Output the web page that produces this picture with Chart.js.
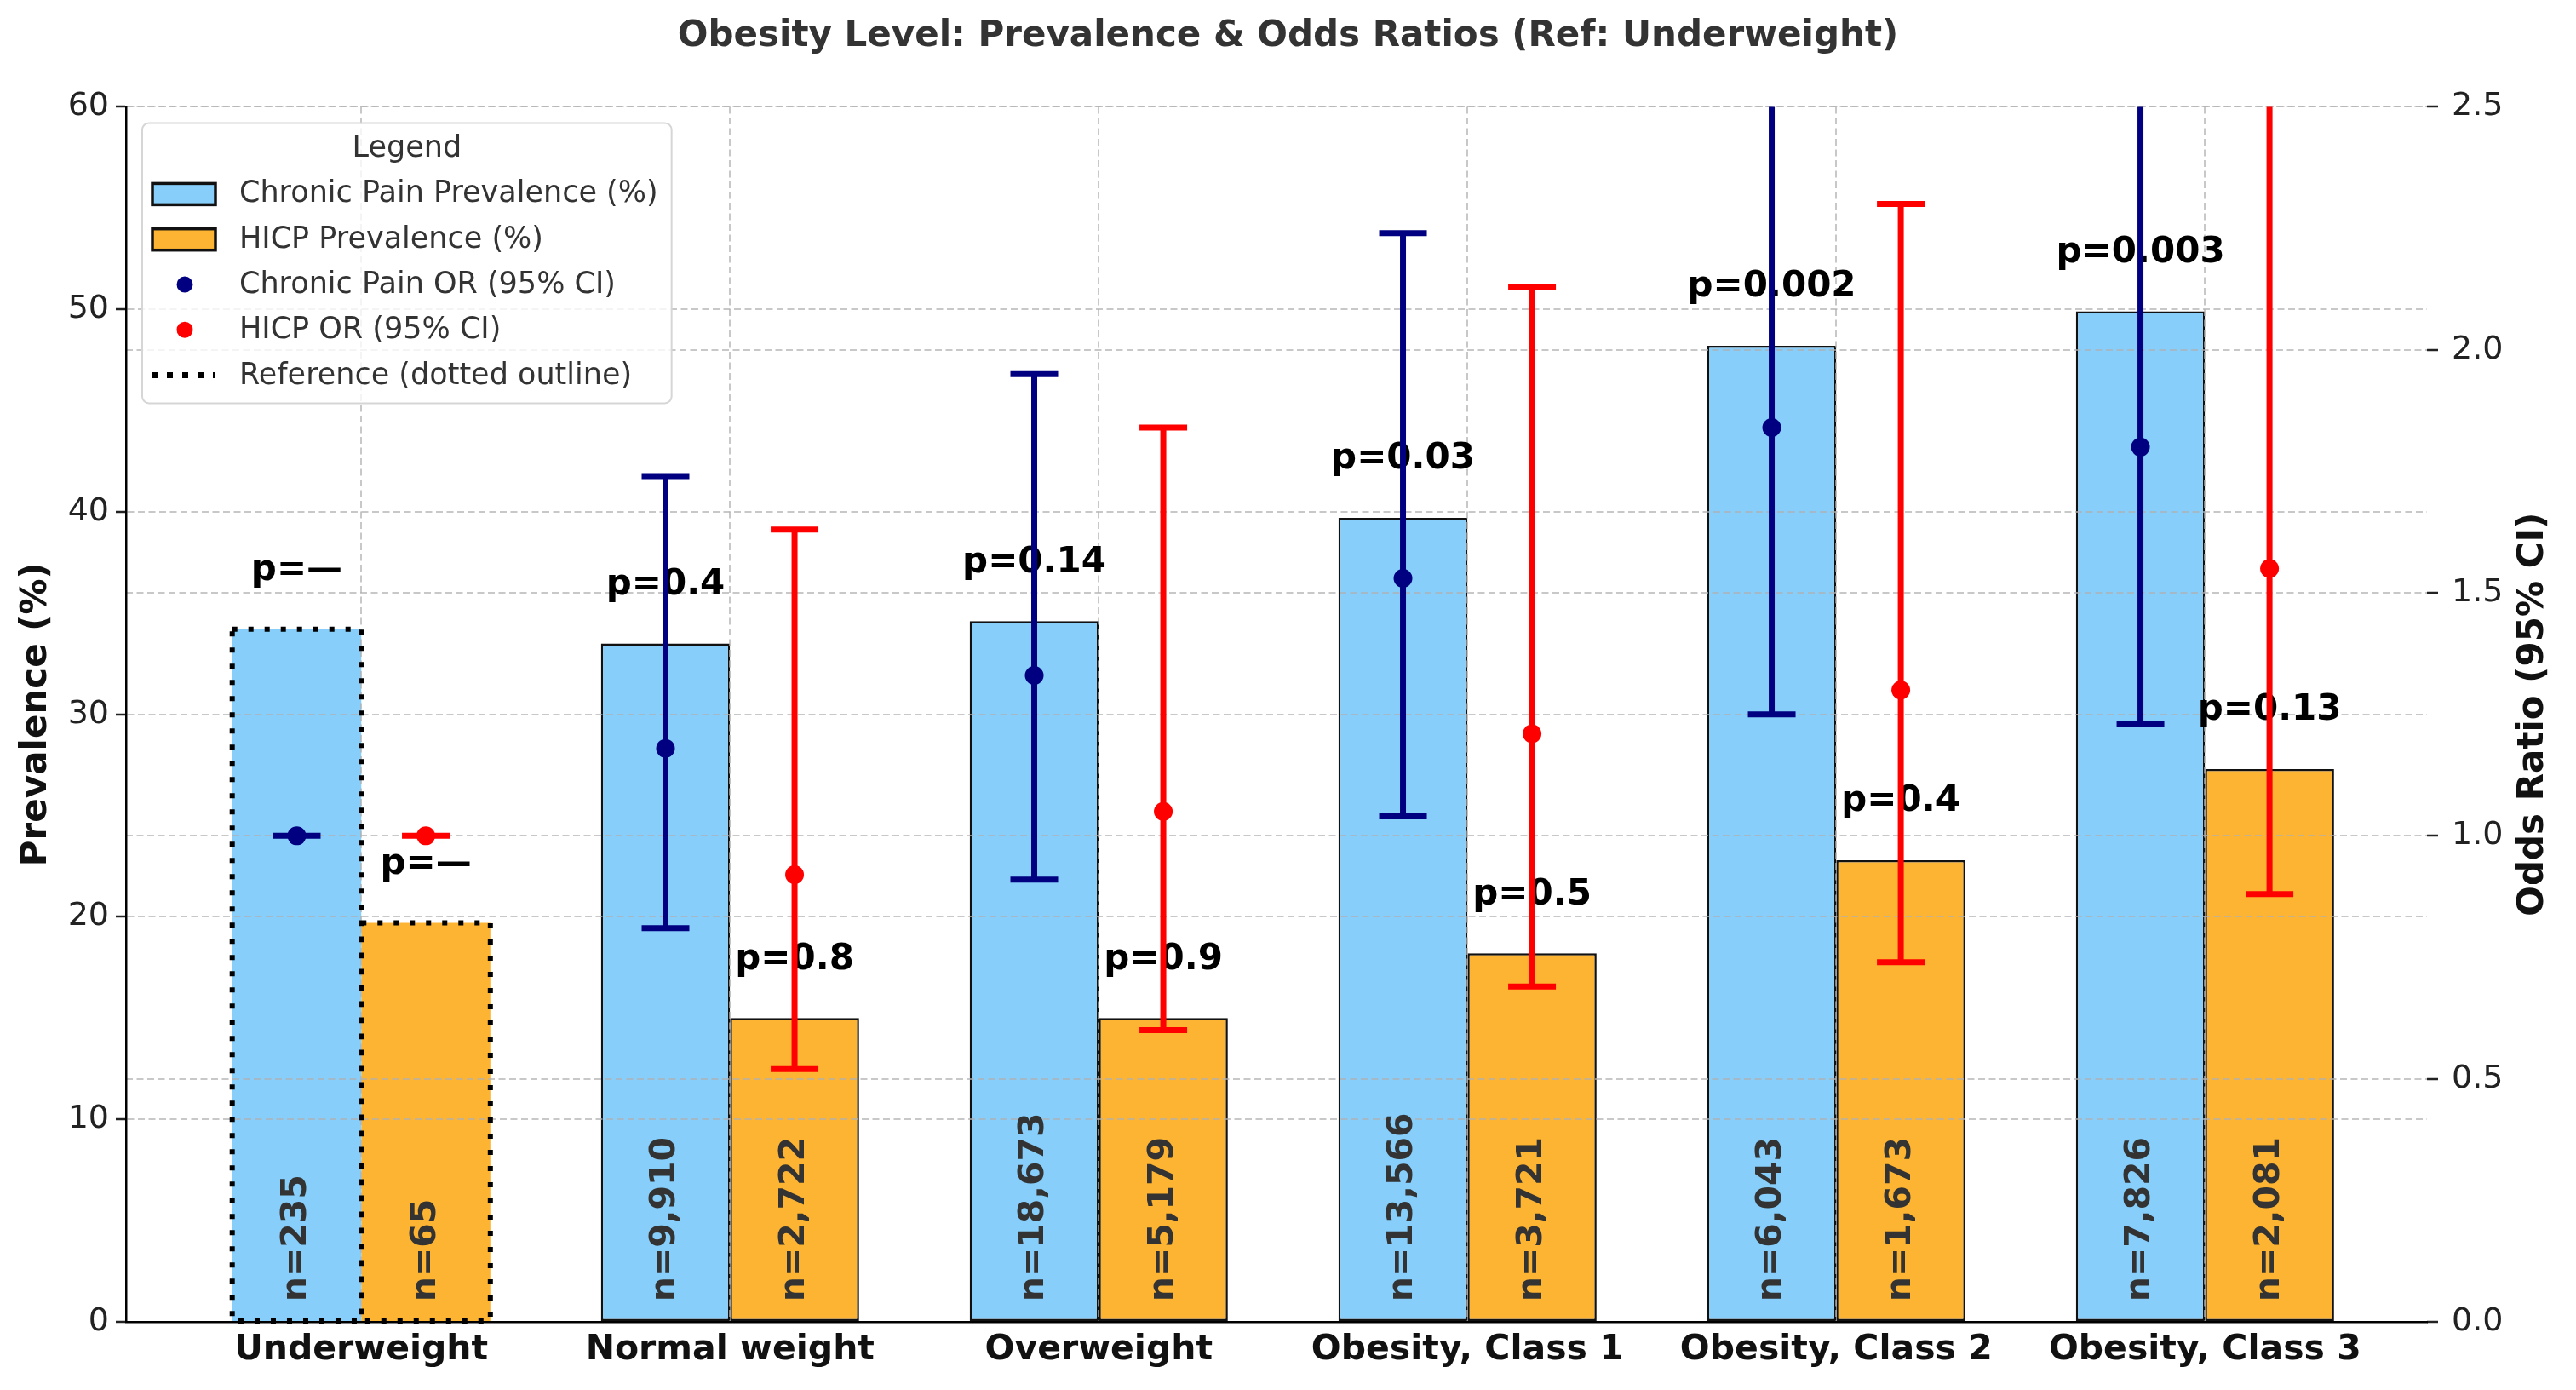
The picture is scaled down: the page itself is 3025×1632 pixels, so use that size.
<!DOCTYPE html>
<html>
<head>
<meta charset="utf-8">
<title>Obesity Level: Prevalence & Odds Ratios</title>
<script src="https://cdn.jsdelivr.net/npm/chart.js@4.4.1/dist/chart.umd.min.js"></script>
<style>
  html, body { margin: 0; padding: 0; background: #ffffff; }
  canvas { display: block; }
</style>
</head>
<body>
<canvas id="obesityChart" width="3025" height="1632"></canvas>
<script>
// categories and values
const categories = ['Underweight', 'Normal weight', 'Overweight', 'Obesity, Class 1', 'Obesity, Class 2', 'Obesity, Class 3'];
const cpPrevalence = [34.2, 33.5, 34.6, 39.7, 48.2, 49.9];
const hicpPrevalence = [19.7, 15.0, 15.0, 18.2, 22.8, 27.3];

// odds ratios with 95% CI (right axis)
const cpOR = [1.00, 1.18, 1.33, 1.53, 1.84, 1.80];
const cpLow = [1.00, 0.81, 0.91, 1.04, 1.25, 1.23];
const cpHigh = [1.00, 1.74, 1.95, 2.24, 2.75, 2.68];
const hicpOR = [1.00, 0.92, 1.05, 1.21, 1.30, 1.55];
const hicpLow = [1.00, 0.52, 0.60, 0.69, 0.74, 0.88];
const hicpHigh = [1.00, 1.63, 1.84, 2.13, 2.30, 2.72];

// annotations
const cpP = ['p=—', 'p=0.4', 'p=0.14', 'p=0.03', 'p=0.002', 'p=0.003'];
const hicpP = ['p=—', 'p=0.8', 'p=0.9', 'p=0.5', 'p=0.4', 'p=0.13'];
const cpN = ['n=235', 'n=9,910', 'n=18,673', 'n=13,566', 'n=6,043', 'n=7,826'];
const hicpN = ['n=65', 'n=2,722', 'n=5,179', 'n=3,721', 'n=1,673', 'n=2,081'];

// axis ticks
const prevTicks = [0, 10, 20, 30, 40, 50, 60];
const orTicks = [0, 0.5, 1.0, 1.5, 2.0, 2.5];

const CP_COLOR = '#87CEFA';
const HICP_COLOR = '#FDB432';
const FONT = '"DejaVu Sans", "Liberation Sans", sans-serif';
const GRID = 'rgba(176,176,176,0.7)';

Chart.defaults.font.family = FONT;

function drawErrorBar(ctx, x, yc, yl, yh, color) {
    ctx.strokeStyle = color;
    ctx.fillStyle = color;
    ctx.lineWidth = 7;
    ctx.lineCap = 'butt';
    ctx.beginPath();
    ctx.moveTo(x, yl);
    ctx.lineTo(x, yh);
    ctx.stroke();
    ctx.beginPath();
    ctx.moveTo(x - 28, yl); ctx.lineTo(x + 28, yl);
    ctx.moveTo(x - 28, yh); ctx.lineTo(x + 28, yh);
    ctx.stroke();
    ctx.beginPath();
    ctx.arc(x, yc, 11, 0, Math.PI * 2);
    ctx.fill();
}

function drawLegend(ctx, area) {
    const items = [
        { text: 'Chronic Pain Prevalence (%)', kind: 'box', color: CP_COLOR },
        { text: 'HICP Prevalence (%)', kind: 'box', color: HICP_COLOR },
        { text: 'Chronic Pain OR (95% CI)', kind: 'dot', color: '#000080' },
        { text: 'HICP OR (95% CI)', kind: 'dot', color: '#FF0000' },
        { text: 'Reference (dotted outline)', kind: 'dots', color: '#000' }
    ];
    ctx.save();
    ctx.font = '35px ' + FONT;
    let maxW = 0;
    items.forEach(it => { maxW = Math.max(maxW, ctx.measureText(it.text).width); });
    const x0 = area.left + 19;
    const y0 = area.top + 19;
    const w = 114 + maxW + 16;
    const h = 329;

    ctx.beginPath();
    ctx.roundRect(x0, y0, w, h, 8);
    ctx.fillStyle = 'rgba(255,255,255,0.8)';
    ctx.fill();
    ctx.lineWidth = 2;
    ctx.strokeStyle = '#d6d6d6';
    ctx.stroke();

    ctx.fillStyle = '#333';
    ctx.textBaseline = 'middle';
    ctx.textAlign = 'center';
    ctx.fillText('Legend', x0 + w / 2, y0 + 31);

    ctx.textAlign = 'left';
    items.forEach((it, k) => {
        const cy = y0 + 83 + k * 53.3;
        if (it.kind === 'box') {
            ctx.fillStyle = it.color;
            ctx.fillRect(x0 + 12, cy - 12, 74, 25);
            ctx.lineWidth = 3.5;
            ctx.strokeStyle = '#111';
            ctx.strokeRect(x0 + 12, cy - 12, 74, 25);
        } else if (it.kind === 'dot') {
            ctx.fillStyle = it.color;
            ctx.beginPath();
            ctx.arc(x0 + 50, cy, 9.5, 0, Math.PI * 2);
            ctx.fill();
        } else {
            ctx.save();
            ctx.strokeStyle = it.color;
            ctx.lineWidth = 7;
            ctx.setLineDash([7, 11]);
            ctx.beginPath();
            ctx.moveTo(x0 + 11, cy);
            ctx.lineTo(x0 + 86, cy);
            ctx.stroke();
            ctx.restore();
        }
        ctx.fillStyle = '#333';
        ctx.fillText(it.text, x0 + 114, cy + 1);
    });
    ctx.restore();
}

const overlayPlugin = {
    id: 'overlay',
    afterDraw(chart) {
        const { ctx, chartArea } = chart;
        const yScale = chart.scales.y;
        const orScale = chart.scales.y2;
        const cpBars = chart.getDatasetMeta(0).data;
        const hiBars = chart.getDatasetMeta(1).data;

        ctx.save();
        // dotted outline of the reference group
        [cpBars[0], hiBars[0]].forEach(b => {
            ctx.save();
            ctx.setLineDash([6, 13]);
            ctx.lineWidth = 6;
            ctx.strokeStyle = '#000';
            ctx.strokeRect(b.x - b.width / 2, b.y, b.width, b.base - b.y);
            ctx.restore();
        });

        // n labels inside bars
        ctx.font = 'bold 41px ' + FONT;
        ctx.fillStyle = '#333';
        const nY = yScale.getPixelForValue(1);
        [[cpBars, cpN], [hiBars, hicpN]].forEach(([bars, labels]) => {
            bars.forEach((b, i) => {
                ctx.save();
                ctx.translate(b.x, nY);
                ctx.rotate(-Math.PI / 2);
                ctx.textAlign = 'left';
                ctx.textBaseline = 'middle';
                ctx.fillText(labels[i], 0, 0);
                ctx.restore();
            });
        });

        // p labels above bars
        ctx.font = 'bold 42px ' + FONT;
        ctx.fillStyle = '#000';
        ctx.textAlign = 'center';
        ctx.textBaseline = 'bottom';
        cpBars.forEach((b, i) => ctx.fillText(cpP[i], b.x, yScale.getPixelForValue(cpPrevalence[i] + 2)));
        hiBars.forEach((b, i) => ctx.fillText(hicpP[i], b.x, yScale.getPixelForValue(hicpPrevalence[i] + 2)));

        // odds ratios with CI, clipped to plot area
        ctx.save();
        ctx.beginPath();
        ctx.rect(chartArea.left, chartArea.top, chartArea.right - chartArea.left, chartArea.bottom - chartArea.top);
        ctx.clip();
        cpBars.forEach((b, i) => drawErrorBar(ctx, b.x, orScale.getPixelForValue(cpOR[i]),
            orScale.getPixelForValue(cpLow[i]), orScale.getPixelForValue(cpHigh[i]), '#000080'));
        hiBars.forEach((b, i) => drawErrorBar(ctx, b.x, orScale.getPixelForValue(hicpOR[i]),
            orScale.getPixelForValue(hicpLow[i]), orScale.getPixelForValue(hicpHigh[i]), '#FF0000'));
        ctx.restore();

        drawLegend(ctx, chartArea);

        // right axis title, reading bottom to top
        ctx.save();
        ctx.translate(2975, (chartArea.top + chartArea.bottom) / 2);
        ctx.rotate(-Math.PI / 2);
        ctx.font = 'bold 42px ' + FONT;
        ctx.fillStyle = '#111';
        ctx.textAlign = 'center';
        ctx.textBaseline = 'middle';
        ctx.fillText('Odds Ratio (95% CI)', 0, 0);
        ctx.restore();

        ctx.restore();
    }
};

const chart = new Chart(document.getElementById('obesityChart'), {
    type: 'bar',
    data: {
        datasets: [{
            label: 'Chronic Pain Prevalence (%)',
            data: cpPrevalence.map((v, i) => ({ x: i, y: v })),
            backgroundColor: CP_COLOR,
            borderColor: '#111',
            borderWidth: c => c.dataIndex === 0 ? 0 : 2.5,
            borderSkipped: false,
            yAxisID: 'y'
        }, {
            label: 'HICP Prevalence (%)',
            data: hicpPrevalence.map((v, i) => ({ x: i, y: v })),
            backgroundColor: HICP_COLOR,
            borderColor: '#111',
            borderWidth: c => c.dataIndex === 0 ? 0 : 2.5,
            borderSkipped: false,
            yAxisID: 'y'
        }]
    },
    options: {
        responsive: false,
        animation: false,
        events: [],
        categoryPercentage: 0.7,
        barPercentage: 1.0,
        layout: { padding: 0 },
        plugins: {
            legend: { display: false },
            tooltip: { enabled: false },
            title: {
                display: true,
                text: 'Obesity Level: Prevalence & Odds Ratios (Ref: Underweight)',
                color: '#333',
                font: { size: 42, weight: 'bold' },
                padding: { top: 18, bottom: 57 }
            }
        },
        scales: {
            x: {
                type: 'linear',
                min: -0.638,
                max: 5.602,
                offset: false,
                afterBuildTicks: s => { s.ticks = categories.map((c, i) => ({ value: i })); },
                afterFit: s => { s.height = 80; },
                ticks: {
                    callback: v => categories[v],
                    color: '#111',
                    font: { size: 41, weight: 'bold' },
                    padding: 9,
                    maxRotation: 0,
                    autoSkip: false
                },
                grid: { offset: false, color: GRID, lineWidth: 2, drawTicks: false, z: 1 },
                border: { display: true, color: '#000', width: 2.5, dash: [8, 4.5], z: 2 }
            },
            y: {
                position: 'left',
                min: 0,
                max: 60,
                afterBuildTicks: s => { s.ticks = prevTicks.map(v => ({ value: v })); },
                afterFit: s => { s.width = 148; },
                ticks: { color: '#222', font: { size: 38 }, padding: 8 },
                grid: { color: GRID, lineWidth: 2, z: 1, tickLength: 12, tickColor: '#222', tickWidth: 2.5, tickBorderDash: [] },
                border: { display: true, color: '#000', width: 2.5, dash: [8, 4.5], z: 2 },
                title: {
                    display: true,
                    text: 'Prevalence (%)',
                    color: '#111',
                    font: { size: 42, weight: 'bold' },
                    padding: { top: 18, bottom: 0 }
                }
            },
            y2: {
                position: 'right',
                min: 0,
                max: 2.5,
                afterBuildTicks: s => { s.ticks = orTicks.map(v => ({ value: v })); },
                afterFit: s => { s.width = 175; },
                ticks: { color: '#222', font: { size: 38 }, padding: 16, callback: v => Number(v).toFixed(1) },
                grid: { color: GRID, lineWidth: 2, z: 1, tickLength: 13, tickColor: '#222', tickWidth: 2.5, tickBorderDash: [] },
                border: { display: false, dash: [8, 4.5] }
            }
        }
    },
    plugins: [overlayPlugin]
});
</script>
</body>
</html>
